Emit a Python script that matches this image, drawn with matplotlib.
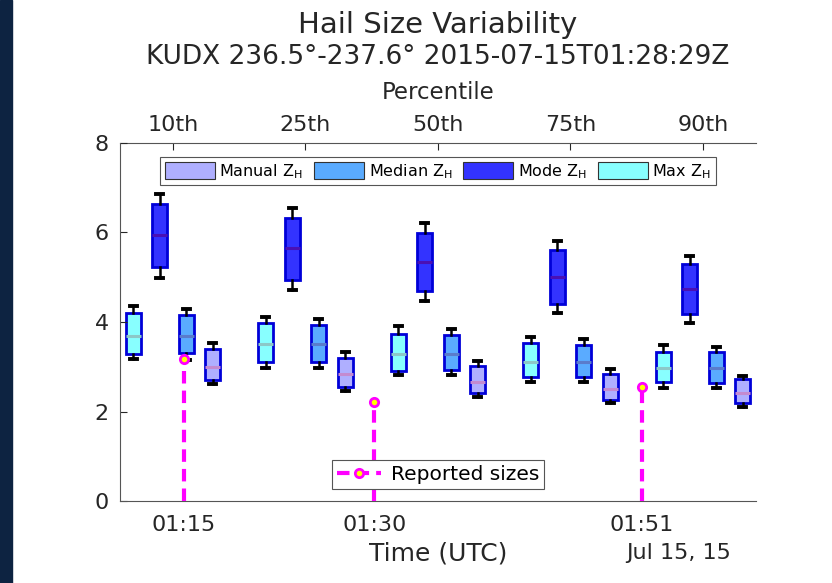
import datetime as dt
import matplotlib
matplotlib.use('Agg')
import matplotlib.pyplot as plt
import matplotlib.dates as mdates
from matplotlib.patches import Patch, Rectangle
from matplotlib.lines import Line2D

plt.rcParams['font.family'] = ['DejaVu Sans']

percentiles = ['10th', '25th', '50th', '75th', '90th']

# each row: low whisker, q1, median, q3, high whisker (cm) for one percentile
max_zh = [[3.17, 3.28, 3.69, 4.19, 4.35],
          [2.97, 3.11, 3.50, 3.97, 4.12],
          [2.82, 2.91, 3.28, 3.73, 3.90],
          [2.65, 2.76, 3.10, 3.52, 3.66],
          [2.53, 2.65, 2.97, 3.34, 3.49]]
mode_zh = [[4.99, 5.22, 5.94, 6.64, 6.86],
           [4.72, 4.94, 5.65, 6.33, 6.54],
           [4.48, 4.69, 5.33, 5.98, 6.21],
           [4.19, 4.40, 5.00, 5.61, 5.82],
           [3.98, 4.17, 4.74, 5.30, 5.48]]
median_zh = [[3.15, 3.30, 3.69, 4.16, 4.30],
             [2.97, 3.11, 3.50, 3.93, 4.07],
             [2.82, 2.93, 3.28, 3.71, 3.84],
             [2.65, 2.76, 3.10, 3.49, 3.62],
             [2.53, 2.64, 2.97, 3.32, 3.45]]
manual_zh = [[2.61, 2.70, 3.00, 3.40, 3.52],
             [2.46, 2.54, 2.83, 3.20, 3.32],
             [2.32, 2.41, 2.67, 3.02, 3.13],
             [2.18, 2.26, 2.50, 2.84, 2.94],
             [2.11, 2.18, 2.41, 2.72, 2.80]]

# hail reports (time UTC, size cm)
report_times = ['01:15', '01:30', '01:51']
report_sizes = [3.175, 2.22, 2.54]

day = dt.datetime(2015, 7, 15)


def at(hhmm):
    h, m = map(int, hhmm.split(':'))
    return day + dt.timedelta(hours=h, minutes=m)


txt = '#262626'
fig = plt.figure(figsize=(8.32, 5.83), dpi=100)
fig.add_artist(Rectangle((0, 0), 12 / 832, 1, transform=fig.transFigure,
                         color='#0d2341', zorder=0))

ax = fig.add_axes([120 / 832, 82 / 583, 636 / 832, 358 / 583])  # time axis
ax2 = ax.twiny()  # percentile axis
ax.set_zorder(ax2.get_zorder() + 1)
ax.patch.set_visible(False)

# box plots on the percentile axis
series = [(max_zh, '#88ffff', '#8cc8c8', -0.3),
          (mode_zh, '#3333ff', '#4a10b4', -0.1),
          (median_zh, '#5aabff', '#5a7ccc', 0.1),
          (manual_zh, '#afafff', '#c48bd0', 0.3)]
for rows, face, medc, off in series:
    stats = [dict(whislo=r[0], q1=r[1], med=r[2], q3=r[3], whishi=r[4]) for r in rows]
    pos = [i + 1 + off for i in range(len(rows))]
    ax2.bxp(stats, positions=pos, widths=0.11, patch_artist=True, showfliers=False,
            manage_ticks=False, capwidths=0.055,
            boxprops=dict(facecolor=face, edgecolor='#0000d8', linewidth=2),
            medianprops=dict(color=medc, linewidth=2.2),
            whiskerprops=dict(color='k', linewidth=1.8),
            capprops=dict(color='k', linewidth=2.8))

ax2.set_xlim(0.6, 5.4)
ax2.set_xticks(range(1, 6))
ax2.set_xticklabels(percentiles)
ax2.set_xlabel('Percentile', fontsize=16.5, color=txt, labelpad=11)
ax2.tick_params(axis='x', direction='in', length=5, labelsize=16, colors=txt, pad=6)

# reported hail sizes on the time axis
for t, s in zip(report_times, report_sizes):
    ax.plot([at(t), at(t)], [0, s], color='#ff00ff', lw=3, ls=(0, (3, 1.7)), zorder=3)
ax.plot([at(t) for t in report_times], report_sizes, 'o', ms=6, mfc='yellow',
        mec='#ff00ff', mew=2, zorder=4)

ax.set_xlim(at('01:10'), at('02:00'))
ax.set_xticks([at(t) for t in report_times])
ax.xaxis.set_major_formatter(mdates.DateFormatter('%H:%M'))
ax.set_ylim(0, 8)
ax.set_yticks([0, 2, 4, 6, 8])
ax.tick_params(direction='in', length=5, labelsize=16, colors=txt)
ax.tick_params(axis='x', pad=10)
ax.tick_params(axis='y', pad=8)
ax.set_xlabel('Time (UTC)', fontsize=18, color=txt, labelpad=5)

for a in (ax, ax2):
    for side in a.spines:
        a.spines[side].set_color('#555555')
        a.spines[side].set_linewidth(0.8)
ax.spines['right'].set_visible(False)
ax.spines['top'].set_visible(False)
ax2.spines['right'].set_visible(False)
ax2.spines['left'].set_visible(False)
ax2.spines['bottom'].set_visible(False)

fig.text(679 / 832, 1 - 553 / 583, 'Jul 15, 15', fontsize=16, color=txt,
         ha='center', va='center')

# legends
box_handles = [Patch(facecolor='#afafff', edgecolor='#333333', lw=0.8, label=r'Manual Z$_{\mathrm{H}}$'),
               Patch(facecolor='#5aabff', edgecolor='#333333', lw=0.8, label=r'Median Z$_{\mathrm{H}}$'),
               Patch(facecolor='#3333ff', edgecolor='#333333', lw=0.8, label=r'Mode Z$_{\mathrm{H}}$'),
               Patch(facecolor='#88ffff', edgecolor='#333333', lw=0.8, label=r'Max Z$_{\mathrm{H}}$')]
leg1 = ax.legend(handles=box_handles, loc='upper center', bbox_to_anchor=(0.5, 0.961),
                 ncol=4, fontsize=11.5, handlelength=3.1, handleheight=1.3,
                 handletextpad=0.3, columnspacing=0.7, borderpad=0.3,
                 borderaxespad=0, fancybox=False, framealpha=1, edgecolor='#555555')
leg1.get_frame().set_linewidth(0.8)
ax.add_artist(leg1)

rep = Line2D([], [], color='#ff00ff', lw=3, ls=(0, (3, 1.7)), marker='o', ms=6,
             mfc='yellow', mec='#ff00ff', mew=2)
leg2 = ax.legend(handles=[rep], labels=['Reported sizes'], loc='lower center',
                 bbox_to_anchor=(0.5, 0.033), fontsize=14.5, handlelength=2.2,
                 handletextpad=0.5, borderpad=0.25, borderaxespad=0,
                 fancybox=False, framealpha=1, edgecolor='#555555')
leg2.get_frame().set_linewidth(0.8)

fig.text(438 / 832, 1 - 25 / 583, 'Hail Size Variability', fontsize=21, color=txt,
         ha='center', va='center')
fig.text(438 / 832, 1 - 57 / 583, 'KUDX 236.5°-237.6° 2015-07-15T01:28:29Z',
         fontsize=19, color=txt, ha='center', va='center')

fig.savefig('out.png', dpi=100)
